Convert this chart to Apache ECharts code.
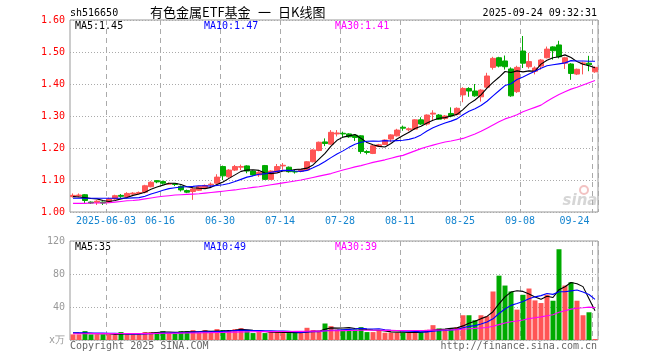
<!DOCTYPE html>
<html><head><meta charset="utf-8">
<script src="https://cdn.jsdelivr.net/npm/echarts@6/dist/echarts.min.js"></script>
<style>html,body{margin:0;padding:0;background:#fff}#c{width:660px;height:360px}</style>
</head><body><div id="c"></div>
<script>
const dates = ['2025-05-23','2025-05-26','2025-05-27','2025-05-28','2025-05-29','2025-05-30',
'2025-06-03','2025-06-04','2025-06-05','2025-06-06','2025-06-09','2025-06-10','2025-06-11','2025-06-12','2025-06-13','2025-06-16','2025-06-17','2025-06-18','2025-06-19','2025-06-20','2025-06-23','2025-06-24','2025-06-25','2025-06-26','2025-06-27','2025-06-30',
'2025-07-01','2025-07-02','2025-07-03','2025-07-04','2025-07-07','2025-07-08','2025-07-09','2025-07-10','2025-07-11','2025-07-14','2025-07-15','2025-07-16','2025-07-17','2025-07-18','2025-07-21','2025-07-22','2025-07-23','2025-07-24','2025-07-25','2025-07-28','2025-07-29','2025-07-30','2025-07-31',
'2025-08-01','2025-08-04','2025-08-05','2025-08-06','2025-08-07','2025-08-08','2025-08-11','2025-08-12','2025-08-13','2025-08-14','2025-08-15','2025-08-18','2025-08-19','2025-08-20','2025-08-21','2025-08-22','2025-08-25','2025-08-26','2025-08-27','2025-08-28','2025-08-29',
'2025-09-01','2025-09-02','2025-09-03','2025-09-04','2025-09-05','2025-09-08','2025-09-09','2025-09-10','2025-09-11','2025-09-12','2025-09-15','2025-09-16','2025-09-17','2025-09-18','2025-09-19','2025-09-22','2025-09-23','2025-09-24'];

const tickDates = ['2025-06-03','2025-06-16','2025-06-30','2025-07-14','2025-07-28','2025-08-11','2025-08-25','2025-09-08','2025-09-24'];

const open = [1.048,1.050,1.054,1.031,1.030,1.031,1.030,1.041,1.052,1.048,
 1.056,1.058,1.062,1.079,1.098,1.095,1.087,1.088,1.080,1.067,
 1.064,1.068,1.076,1.085,1.090,1.142,1.110,1.131,1.140,1.144,
 1.128,1.116,1.145,1.102,1.124,1.144,1.140,1.127,1.127,1.131,
 1.157,1.192,1.219,1.212,1.244,1.246,1.244,1.240,1.238,1.189,
 1.183,1.205,1.211,1.228,1.238,1.265,1.257,1.259,1.288,1.275,
 1.306,1.303,1.292,1.308,1.305,1.366,1.386,1.378,1.360,1.390,
 1.452,1.482,1.472,1.447,1.376,1.503,1.454,1.440,1.456,1.482,
 1.516,1.522,1.465,1.4625,1.431,1.463,1.465,1.438];

const close = [1.052,1.053,1.036,1.028,1.034,1.028,1.041,1.051,1.049,1.058,
 1.059,1.061,1.082,1.093,1.094,1.090,1.089,1.086,1.069,1.062,
 1.072,1.080,1.083,1.087,1.109,1.113,1.131,1.142,1.142,1.128,
 1.116,1.124,1.102,1.128,1.142,1.146,1.126,1.125,1.132,1.157,
 1.194,1.218,1.214,1.249,1.247,1.244,1.235,1.233,1.189,1.186,
 1.207,1.210,1.225,1.241,1.256,1.262,1.260,1.288,1.275,1.303,
 1.309,1.290,1.300,1.300,1.324,1.386,1.378,1.363,1.381,1.425,
 1.480,1.456,1.454,1.363,1.452,1.465,1.470,1.450,1.475,1.509,
 1.504,1.485,1.482,1.433,1.446,1.466,1.460,1.452];

const low = [1.045,1.046,1.026,1.025,1.022,1.022,1.028,1.038,1.044,1.045,
 1.054,1.055,1.058,1.077,1.090,1.086,1.085,1.081,1.064,1.059,
 1.038,1.066,1.073,1.078,1.088,1.100,1.107,1.128,1.131,1.121,
 1.113,1.110,1.100,1.100,1.122,1.132,1.123,1.120,1.124,1.129,
 1.155,1.190,1.206,1.210,1.236,1.233,1.232,1.222,1.182,1.180,
 1.181,1.203,1.209,1.218,1.236,1.254,1.252,1.257,1.272,1.270,
 1.288,1.288,1.288,1.296,1.302,1.343,1.360,1.360,1.345,1.385,
 1.445,1.452,1.445,1.360,1.372,1.450,1.448,1.430,1.445,1.480,
 1.476,1.480,1.447,1.413,1.428,1.430,1.440,1.435];

const high = [1.058,1.058,1.056,1.033,1.037,1.033,1.045,1.054,1.056,1.062,
 1.062,1.064,1.085,1.096,1.100,1.098,1.092,1.089,1.083,1.070,
 1.075,1.082,1.086,1.092,1.118,1.145,1.134,1.147,1.148,1.146,
 1.130,1.128,1.147,1.130,1.150,1.153,1.142,1.131,1.134,1.159,
 1.196,1.220,1.230,1.256,1.256,1.251,1.246,1.243,1.240,1.193,
 1.209,1.213,1.227,1.243,1.260,1.270,1.264,1.290,1.296,1.305,
 1.318,1.306,1.303,1.327,1.327,1.390,1.390,1.400,1.384,1.435,
 1.485,1.485,1.489,1.452,1.457,1.550,1.497,1.455,1.478,1.517,
 1.518,1.535,1.485,1.465,1.448,1.470,1.488,1.455];

const ma5 = [1.048,1.047,1.045,1.042,1.041,1.036,1.033,1.036,1.041,1.045,
 1.052,1.056,1.062,1.071,1.078,1.084,1.090,1.090,1.086,1.079,
 1.076,1.074,1.073,1.077,1.086,1.094,1.105,1.116,1.127,1.131,
 1.132,1.130,1.122,1.120,1.122,1.128,1.129,1.133,1.134,1.137,
 1.147,1.165,1.183,1.206,1.224,1.234,1.238,1.242,1.230,1.217,
 1.210,1.205,1.203,1.214,1.228,1.239,1.249,1.261,1.268,1.278,
 1.287,1.293,1.295,1.300,1.305,1.320,1.338,1.350,1.366,1.387,
 1.405,1.421,1.439,1.436,1.441,1.438,1.441,1.440,1.462,1.474,
 1.482,1.485,1.491,1.483,1.470,1.462,1.457,1.451];

const ma10 = [1.043,1.043,1.043,1.043,1.043,1.043,1.043,1.043,1.043,1.043,
 1.044,1.045,1.049,1.056,1.062,1.068,1.073,1.076,1.078,1.079,
 1.080,1.082,1.082,1.081,1.083,1.085,1.089,1.095,1.102,1.109,
 1.113,1.118,1.119,1.124,1.127,1.130,1.130,1.128,1.127,1.130,
 1.138,1.147,1.158,1.170,1.181,1.191,1.202,1.212,1.218,1.221,
 1.222,1.221,1.223,1.222,1.223,1.224,1.227,1.232,1.241,1.253,
 1.263,1.271,1.278,1.284,1.291,1.304,1.315,1.323,1.333,1.346,
 1.363,1.379,1.395,1.401,1.414,1.422,1.431,1.440,1.449,1.457,
 1.460,1.463,1.466,1.473,1.472,1.472,1.471,1.471];

const ma30 = [1.027,1.027,1.027,1.028,1.028,1.028,1.029,1.031,1.033,1.035,
 1.036,1.038,1.041,1.044,1.047,1.049,1.051,1.053,1.054,1.055,
 1.056,1.057,1.059,1.061,1.063,1.065,1.067,1.069,1.072,1.074,
 1.077,1.079,1.082,1.085,1.088,1.091,1.094,1.097,1.100,1.104,
 1.108,1.112,1.116,1.120,1.126,1.131,1.136,1.141,1.145,1.150,
 1.155,1.159,1.163,1.168,1.173,1.177,1.184,1.191,1.198,1.204,
 1.209,1.214,1.219,1.222,1.226,1.230,1.237,1.244,1.252,1.262,
 1.272,1.282,1.291,1.297,1.304,1.313,1.320,1.327,1.334,1.346,
 1.357,1.367,1.376,1.384,1.390,1.397,1.404,1.411];

const volume = [6.8,6.8,10.8,6.8,6.8,6.8,6.8,6.0,9.6,6.8,
 6.8,6.8,9.6,9.6,9.6,10.8,8.8,7.6,10.8,10.8,
 12.0,8.8,12.0,8.8,13.2,12.0,12.0,13.2,14.4,10.8,
 8.4,9.6,8.4,9.6,10.8,8.4,8.4,8.4,8.4,14.8,
 12.0,10.0,20.0,16.8,12.8,12.8,12.8,12.8,15.6,9.6,
 9.6,12.0,8.8,8.8,8.8,8.8,9.6,9.6,9.6,12.4,
 18.0,14.0,12.0,14.0,15.6,30.0,30.0,24.0,30.0,28.8,
 58.8,78.0,66.0,58.8,36.8,54.8,62.4,48.0,44.8,54.8,
 47.6,110.0,66.0,70.0,47.6,30.0,33.6,1.2];

const volMa5 = [8.5,8.3,8.2,8.0,7.6,7.6,7.6,6.6,7.2,7.2,
 7.2,7.2,8.0,8.5,9.1,9.7,9.7,9.3,9.5,9.8,
 10.0,10.0,10.9,10.5,11.0,11.0,11.6,11.8,13.0,12.5,
 11.8,11.3,10.3,9.4,9.4,9.0,9.1,8.9,8.9,9.7,
 10.4,10.7,13.0,14.7,14.4,14.6,15.0,14.0,13.4,12.7,
 12.1,11.9,11.1,9.8,9.6,9.6,9.0,9.1,9.3,10.0,
 11.8,12.7,13.2,14.1,14.7,17.1,20.3,22.7,25.9,28.6,
 34.3,43.9,52.3,58.1,59.7,58.9,55.8,52.2,49.4,53.0,
 51.5,61.0,64.6,69.7,68.2,64.7,50.0,35.4];

const volMa10 = [8.8,8.7,8.6,8.5,8.4,8.3,8.2,8.0,7.8,7.4,
 7.4,7.4,7.3,7.6,7.9,8.3,8.5,8.6,8.7,9.1,
 9.6,9.8,10.0,9.9,10.3,10.4,10.8,11.4,11.7,11.7,
 11.4,11.5,11.1,11.2,11.0,10.7,10.4,9.9,9.3,9.7,
 10.0,10.0,11.2,11.9,12.1,12.5,12.9,13.4,14.1,13.6,
 13.4,13.6,12.5,11.9,11.5,11.1,10.8,10.5,9.9,9.9,
 10.8,11.3,11.6,12.1,12.8,14.9,16.5,17.4,19.5,21.7,
 25.7,32.1,37.5,42.0,44.2,46.7,49.9,52.3,53.8,56.4,
 55.3,58.5,58.4,59.5,60.6,58.1,55.2,49.3];

const volMa30 = [7.6,7.6,7.6,7.7,7.7,7.7,7.7,7.7,7.8,7.8,
 7.8,7.8,7.9,7.9,8.0,8.1,8.2,8.2,8.3,8.4,
 8.5,8.6,8.8,8.9,9.1,9.2,9.4,9.6,9.8,9.9,
 10.0,10.1,10.1,10.2,10.3,10.3,10.3,10.4,10.4,10.6,
 10.7,10.8,11.0,11.2,11.3,11.4,11.5,11.6,11.8,11.8,
 11.8,11.8,11.7,11.7,11.6,11.6,11.6,11.6,11.6,11.7,
 12.0,12.1,12.2,12.3,12.5,13.1,13.7,14.1,14.6,15.1,
 16.6,18.6,20.5,22.1,23.0,24.3,25.9,27.0,28.0,29.4,
 30.6,33.7,35.4,37.4,38.5,39.1,39.8,39.2];

const UP = '#ff5555', DOWN = '#00aa00';
const MONO = '"DejaVu Sans Mono", "Liberation Mono", monospace';
const LABEL_BLUE = '#1585d0';
const tickSet = new Set(tickDates);
const last = a => a[a.length - 1];

const candleData = dates.map((d, i) => [open[i], close[i], low[i], high[i]]);
const volData = volume.map((v, i) => ({ value: v, itemStyle: { color: close[i] >= open[i] ? UP : DOWN } }));

function makeX(gridIndex, showLabel) {
  return {
    type: 'category', gridIndex, data: dates, boundaryGap: true,
    axisLine: { show: false }, axisTick: { show: false },
    axisLabel: {
      show: showLabel, interval: (i, v) => tickSet.has(v), margin: 4,
      formatter: (v) => {
        const t = v === tickDates[0] ? v : v.slice(5);
        return v === last(tickDates) ? '{e|' + t + '}' : '{n|' + t + '}';
      },
      rich: {
        n: { color: LABEL_BLUE, fontSize: 10, fontFamily: MONO, padding: [0, 6, 0, 0] },
        e: { color: LABEL_BLUE, fontSize: 10, fontFamily: MONO, padding: [0, 41, 0, 0] }
      }
    },
    splitLine: { show: true, interval: (i, v) => tickSet.has(v), lineStyle: { color: '#aaaaaa', width: 1, type: [5, 4] } }
  };
}

function txt(x, y, text, fill, font, align) {
  return { type: 'text', x, y, silent: true, style: { text, fill, font, align: align || 'left', verticalAlign: 'middle' } };
}
const F10 = '10px ' + MONO;
const CJK = '13px "Noto Sans CJK SC", sans-serif';

const chart = echarts.init(document.getElementById('c'), null, { renderer: 'canvas' });
chart.setOption({
  animation: false,
  backgroundColor: '#ffffff',
  grid: [
    { left: 70, top: 20, width: 528, height: 192, show: true, borderColor: '#999999', borderWidth: 1, containLabel: false },
    { left: 70, top: 241, width: 528, height: 99, show: true, borderColor: '#999999', borderWidth: 1, containLabel: false }
  ],
  xAxis: [makeX(0, true), makeX(1, false)],
  yAxis: [
    { type: 'value', gridIndex: 0, min: 1.0, max: 1.6, interval: 0.1,
      axisLine: { show: false }, axisTick: { show: false },
      axisLabel: { color: '#ff0000', fontSize: 10, fontFamily: MONO, margin: 5, formatter: v => v.toFixed(2) },
      splitLine: { lineStyle: { color: '#aaaaaa', width: 1, type: [1, 2] } } },
    { type: 'value', gridIndex: 1, min: 0, max: 120, interval: 40,
      axisLine: { show: false }, axisTick: { show: false },
      axisLabel: { color: '#999999', fontSize: 10, fontFamily: MONO, margin: 5, formatter: v => v === 0 ? 'x万' : String(v) },
      splitLine: { lineStyle: { color: '#aaaaaa', width: 1, type: [1, 2] } } }
  ],
  series: [
    { type: 'candlestick', xAxisIndex: 0, yAxisIndex: 0, data: candleData, barWidth: 5,
      itemStyle: { color: UP, color0: DOWN, borderColor: UP, borderColor0: DOWN, borderWidth: 1 }, z: 2 },
    { type: 'line', xAxisIndex: 0, yAxisIndex: 0, data: ma5, showSymbol: false, lineStyle: { color: '#000000', width: 1.1 }, z: 3 },
    { type: 'line', xAxisIndex: 0, yAxisIndex: 0, data: ma10, showSymbol: false, lineStyle: { color: '#0000ff', width: 1.1 }, z: 3 },
    { type: 'line', xAxisIndex: 0, yAxisIndex: 0, data: ma30, showSymbol: false, lineStyle: { color: '#ff00ff', width: 1.1 }, z: 3 },
    { type: 'bar', xAxisIndex: 1, yAxisIndex: 1, data: volData, barWidth: 5, z: 2 },
    { type: 'line', xAxisIndex: 1, yAxisIndex: 1, data: volMa5, showSymbol: false, lineStyle: { color: '#000000', width: 1.1 }, z: 3 },
    { type: 'line', xAxisIndex: 1, yAxisIndex: 1, data: volMa10, showSymbol: false, lineStyle: { color: '#0000ff', width: 1.1 }, z: 3 },
    { type: 'line', xAxisIndex: 1, yAxisIndex: 1, data: volMa30, showSymbol: false, lineStyle: { color: '#ff00ff', width: 1.1 }, z: 3 }
  ],
  graphic: [
    txt(70, 13, 'sh516650', '#000000', F10),
    txt(150, 12, '有色金属ETF基金', '#000000', CJK),
    txt(258, 12, '一', '#000000', CJK),
    txt(278, 12, '日K线图', '#000000', CJK),
    txt(597, 13, '2025-09-24 09:32:31', '#000000', F10, 'right'),
    txt(75, 26, 'MA5:' + last(ma5).toFixed(2), '#000000', F10),
    txt(204, 26, 'MA10:' + last(ma10).toFixed(2), '#0000ff', F10),
    txt(335, 26, 'MA30:' + last(ma30).toFixed(2), '#ff00ff', F10),
    txt(75, 247, 'MA5:' + Math.round(last(volMa5)), '#000000', F10),
    txt(204, 247, 'MA10:' + Math.round(last(volMa10)), '#0000ff', F10),
    txt(335, 247, 'MA30:' + Math.round(last(volMa30)), '#ff00ff', F10),
    txt(70, 346, 'Copyright 2025 SINA.COM', '#666666', F10),
    txt(597, 346, 'http://finance.sina.com.cn', '#666666', F10, 'right'),
    { type: 'circle', silent: true, shape: { cx: 584, cy: 190, r: 4 }, style: { fill: 'none', stroke: '#f2c2c2', lineWidth: 2 } },
    txt(580, 201, 'sina', '#d6d6d6', 'italic bold 15px "DejaVu Sans", sans-serif', 'center')
  ]
});
</script>
</body></html>
